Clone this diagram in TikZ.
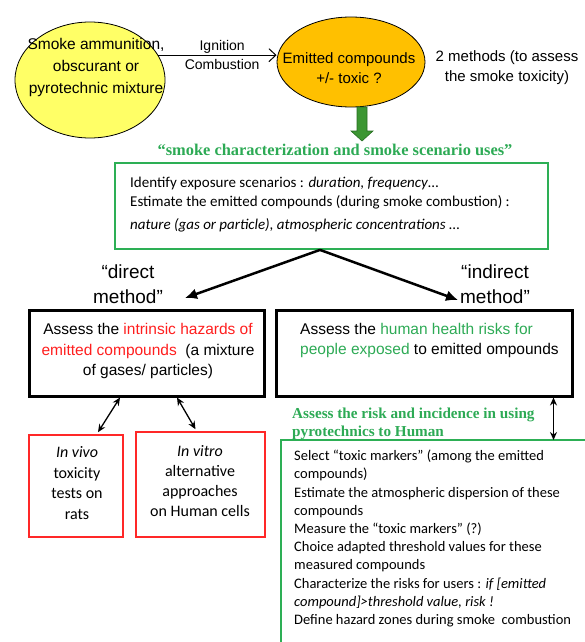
\documentclass[tikz,border=0pt]{standalone}
\usepackage{fontspec}
\setmainfont{Liberation Sans}
\newfontfamily\calfont{Carlito}
\newfontfamily\serfont{Liberation Serif}
\usetikzlibrary{shapes.geometric,arrows.meta,calc}
\definecolor{yelfill}{RGB}{255,255,102}
\definecolor{orgfill}{RGB}{255,192,0}
\definecolor{gline}{RGB}{45,175,85}
\definecolor{gtext}{RGB}{45,170,85}
\definecolor{garrowfill}{RGB}{60,150,50}
\definecolor{garrowdraw}{RGB}{40,110,35}
\definecolor{rline}{RGB}{255,40,40}
\definecolor{rtext}{RGB}{255,30,30}
\tikzset{
  txt/.style={inner sep=0pt, align=center},
  blackbox/.style={draw, line width=3pt, inner sep=0pt},
  redbox/.style={draw=rline, line width=1.5pt, inner sep=0pt},
  greenbox/.style={draw=gline, line width=1.8pt},
  bigarrow/.style={line width=2.5pt, -{Latex[length=12pt,width=11pt]}},
  dblarrow/.style={line width=1.3pt, {Stealth[length=8pt,width=7pt]}-{Stealth[length=8pt,width=7pt]}},
}
\begin{document}
\begin{tikzpicture}[x=1pt,y=-1pt]
\useasboundingbox (0,0) rectangle (585,642);

% top ellipses
\node[ellipse, draw, fill=yelfill, line width=0.8pt, minimum width=150pt, minimum height=116pt, inner sep=0pt] (yel) at (90,80) {};
\node[txt, font=\fontsize{15.5}{22}\selectfont] (yeltxt) at (96,67) {Smoke ammunition,\\obscurant or\\pyrotechnic mixture};

\node[ellipse, draw, fill=orgfill, line width=0.8pt, minimum width=148pt, minimum height=90pt, inner sep=0pt] (org) at (351,62) {};
\node[txt, font=\fontsize{15}{20}\selectfont] (orgtxt) at (349,68) {Emitted compounds\\+/- toxic ?};

\draw[line width=1pt, -{Straight Barb[length=7pt,width=13pt]}] (yel.20) -- (yel.20 -| org.west)
  node[txt, pos=0.54, font=\fontsize{14}{19}\selectfont] (ign) {Ignition\\Combustion};

\node[txt, font=\fontsize{15}{20}\selectfont] (twom) at (507,68) {2 methods (to assess\\the smoke toxicity)};

% green block arrow
\filldraw[fill=garrowfill, draw=garrowdraw, line width=0.6pt]
  (357,107) -- (367,107) -- (367,131) -- (373,131) -- (362,141) -- (351,131) -- (357,131) -- cycle;

\node[txt, text=gtext, font=\serfont\bfseries\fontsize{16.4}{18}\selectfont] (gtitle) at (335,150) {“smoke characterization and smoke scenario uses”};

% green box
\node[greenbox, minimum width=433pt, minimum height=86pt, inner sep=0pt] (gbox) at (331.5,206) {};
\node[inner sep=0pt, align=left, anchor=west, font=\calfont\fontsize{15}{19}\selectfont] (gboxtxt) at (130,204.5)
  {Identify exposure scenarios : \textit{duration, frequency}…\\
   Estimate the emitted compounds (during smoke combustion) :\\[4pt]
   \textit{nature (gas or particle), atmospheric concentrations} …};

% split arrows
\coordinate (split) at ($(gbox.south)+(-11.5,0)$);
\coordinate (dtip) at (185,298);
\coordinate (itip) at (458,300);
\draw[bigarrow] (split) -- (dtip);
\draw[bigarrow] (split) -- (itip);

\node[txt, font=\fontsize{19}{25}\selectfont] (direct) at (128,284) {“direct\\method”};
\node[txt, font=\fontsize{19}{25}\selectfont] (indirect) at (495,284) {“indirect\\method”};

% black boxes
\node[blackbox, minimum width=235pt, minimum height=86pt] (lbox) at (146.5,353) {};
\node[txt, font=\fontsize{15.5}{20.5}\selectfont] (lboxtxt) at (148,351)
  {Assess the \textcolor{rtext}{intrinsic hazards of}\\\textcolor{rtext}{emitted compounds}\ \ (a mixture\\of gases/ particles)};

\node[blackbox, minimum width=296pt, minimum height=86pt] (rbox) at (424,353) {};
\node[inner sep=0pt, align=left, anchor=west, font=\fontsize{15.5}{20}\selectfont] (rboxtxt) at (300,340)
  {Assess the \textcolor{gtext}{human health risks for}\\\textcolor{gtext}{people exposed} to emitted ompounds};

% red boxes
\node[redbox, minimum width=94pt, minimum height=102pt] (rv1) at (76,486) {};
\node[txt, font=\calfont\fontsize{16}{20.7}\selectfont] (rv1txt) at (77,483) {\textit{In vivo}\\toxicity\\tests on\\rats};
\node[redbox, minimum width=129pt, minimum height=105pt] (rv2) at (200.5,484.5) {};
\node[txt, font=\calfont\fontsize{16}{20}\selectfont] (rv2txt) at (200,481) {\textit{In vitro}\\alternative\\approaches\\on Human cells};

\draw[dblarrow] ($(lbox.south)+(-26.5,0)$) -- ($(rv1.north)+(22,-2)$);
\draw[dblarrow] ($(lbox.south)+(30.5,0)$) -- ($(rv2.north)+(-5,-2)$);

% right lower part
\coordinate (lnw) at (281,440);
\draw[greenbox] (600,440) -- (lnw) -- (281,660);
\coordinate (rarr) at ($(rbox.south east)+(-20,0)$);
\draw[dblarrow] (rarr) -- (rarr |- lnw);

\node[inner sep=0pt, align=left, anchor=west, text=gtext, font=\serfont\bfseries\fontsize{15.2}{18}\selectfont] (risktxt) at (292,424)
  {Assess the risk and incidence in using\\pyrotechnics to Human};

\node[inner sep=0pt, align=left, anchor=west, font=\calfont\fontsize{14.5}{18.2}\selectfont] (listtxt) at (294,538.5)
  {Select “toxic markers” (among the emitted\\
   compounds)\\
   Estimate the atmospheric dispersion of these\\
   compounds\\
   Measure the “toxic markers” (?)\\
   Choice adapted threshold values for these\\
   measured compounds\\
   Characterize the risks for users : \textit{if [emitted}\\
   \textit{compound]>threshold value, risk !}\\
   Define hazard zones during smoke\ \ combustion};
\end{tikzpicture}
\end{document}
